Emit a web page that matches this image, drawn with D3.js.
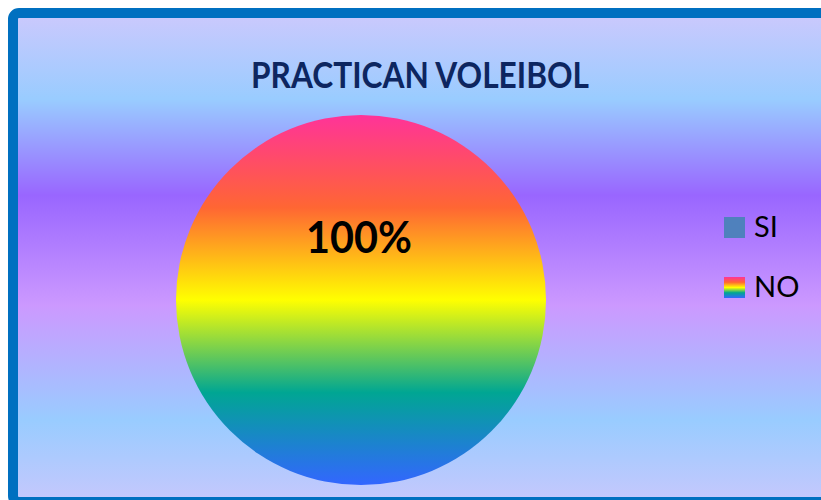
<!DOCTYPE html>
<html>
<head>
<meta charset="utf-8">
<script src="https://cdn.jsdelivr.net/npm/d3@7"></script>
<style>
  body { margin: 0; background: #fff; }
  svg { display: block; }
</style>
</head>
<body>
<div id="chart"></div>
<script>
// chart data
var categories = ["SI", "NO"];
var values = [0, 100];
var labels = ["0%", "100%"];
var title = "PRACTICAN VOLEIBOL";

var width = 821, height = 500;

var svg = d3.select("#chart").append("svg")
    .attr("width", width)
    .attr("height", height);

var defs = svg.append("defs");

// background gradient of the chart area
var bg = defs.append("linearGradient")
    .attr("id", "bgGrad")
    .attr("gradientUnits", "userSpaceOnUse")
    .attr("x1", 0).attr("y1", 18).attr("x2", 0).attr("y2", 497);
[[0, "#c9c9fd"], [0.17, "#99ccff"], [0.37, "#9966ff"], [0.6, "#cc99ff"], [0.84, "#99ccff"], [1, "#c3c8fd"]]
  .forEach(function(s) { bg.append("stop").attr("offset", s[0]).attr("stop-color", s[1]); });

// rainbow fill for "NO"
function rainbow(id) {
  var g = defs.append("linearGradient")
      .attr("id", id)
      .attr("x1", 0).attr("y1", 0).attr("x2", 0).attr("y2", 1);
  [[0, "#ff3399"], [0.25, "#ff6633"], [0.5, "#ffff00"], [0.75, "#00a693"], [1, "#3366ff"]]
    .forEach(function(s) { g.append("stop").attr("offset", s[0]).attr("stop-color", s[1]); });
}
rainbow("rainbowPie");
rainbow("rainbowKey");

var fills = ["#4f81bd", "url(#rainbowPie)"];
var keyFills = ["#4f81bd", "url(#rainbowKey)"];

// frame
svg.append("rect")
    .attr("x", 13).attr("y", 13)
    .attr("width", 840).attr("height", 489)
    .attr("rx", 6)
    .attr("fill", "url(#bgGrad)")
    .attr("stroke", "#0070c0")
    .attr("stroke-width", 10);

svg.append("text")
    .attr("x", 420)
    .attr("y", 88)
    .attr("text-anchor", "middle")
    .attr("textLength", 338)
    .attr("lengthAdjust", "spacingAndGlyphs")
    .style("font-family", "Lato, 'Open Sans', sans-serif")
    .style("font-weight", "bold")
    .style("font-size", "36px")
    .style("fill", "#0d2660")
    .text(title);

// pie
var cx = 361, cy = 300, r = 185;
var pie = d3.pie().sort(null).value(function(d) { return d; });
var arc = d3.arc().innerRadius(0).outerRadius(r);
var arcs = pie(values);

var g = svg.append("g").attr("transform", "translate(" + cx + "," + cy + ")");
g.selectAll("path")
    .data(arcs)
  .enter().append("path")
    .attr("d", arc)
    .attr("fill", function(d, i) { return fills[i]; });

// data label
g.selectAll(".lbl")
    .data(arcs.filter(function(d) { return d.data > 0; }))
  .enter().append("text")
    .attr("class", "lbl")
    .attr("x", -2)
    .attr("y", -47)
    .attr("text-anchor", "middle")
    .attr("textLength", 106)
    .attr("lengthAdjust", "spacingAndGlyphs")
    .style("font-family", "Lato, 'Open Sans', sans-serif")
    .style("font-weight", "bold")
    .style("font-size", "43px")
    .style("fill", "#000")
    .text(function(d) { return labels[d.index]; });

// legend
var legend = svg.append("g").attr("transform", "translate(724,217)");
var item = legend.selectAll(".item")
    .data(categories)
  .enter().append("g")
    .attr("class", "item")
    .attr("transform", function(d, i) { return "translate(0," + (i * 60) + ")"; });

item.append("rect")
    .attr("width", 21).attr("height", 21)
    .attr("fill", function(d, i) { return keyFills[i]; });

item.append("text")
    .attr("x", 30)
    .attr("y", 20)
    .style("font-family", "Lato, 'Open Sans', sans-serif")
    .style("font-size", "29px")
    .style("fill", "#000")
    .text(function(d) { return d; });
</script>
</body>
</html>
